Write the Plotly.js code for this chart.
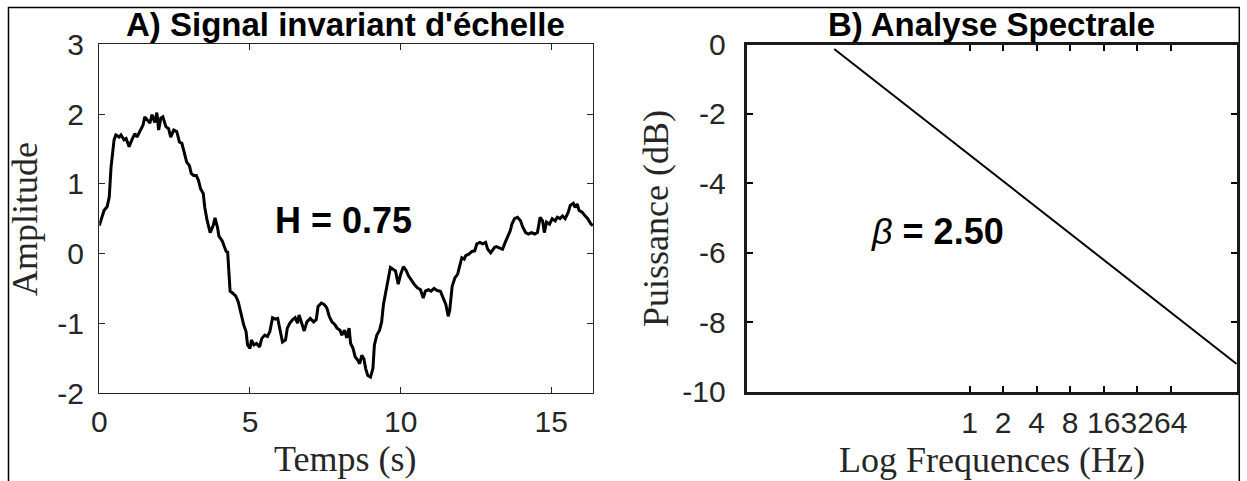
<!DOCTYPE html>
<html>
<head>
<meta charset="utf-8">
<script src="https://cdn.plot.ly/plotly-3.0.1.min.js"></script>
<style>
  html, body { margin: 0; padding: 0; background: #ffffff; }
  #chart { width: 1247px; height: 481px; }
</style>
</head>
<body>
<div id="chart"></div>
<script>
// ---- Panel A: scale-invariant signal ----
const time = [0,0.16,0.26,0.33,0.39,0.49,0.55,0.66,0.72,0.82,0.89,0.99,1.08,1.18,1.25,1.34,1.45,1.51,1.61,1.68,1.75,1.84,1.91,1.97,2.04,2.11,2.21,2.30,2.37,2.47,2.57,2.66,2.74,2.83,2.90,2.99,3.05,3.13,3.22,3.29,3.36,3.45,3.50,3.58,3.68,3.78,3.84,3.92,3.97,4.08,4.15,4.21,
  4.26,4.30,4.34,4.43,4.53,4.61,4.70,4.79,4.87,4.92,5.00,5.05,5.13,5.22,5.32,5.39,5.49,5.58,5.66,5.75,5.84,5.92,6.00,6.08,6.18,6.24,6.32,6.41,6.50,6.58,6.63,6.71,6.80,6.89,7.00,7.11,7.20,7.26,7.37,7.46,7.55,7.63,7.72,7.82,7.89,7.99,8.05,8.14,8.21,8.29,8.34,8.42,8.49,8.58,8.64,8.71,8.78,8.84,8.91,9.00,9.08,9.13,9.21,9.30,9.37,9.43,9.50,9.57,9.66,9.76,9.83,9.92,10.00,10.09,10.18,10.26,10.36,10.45,10.55,10.66,10.75,10.82,10.92,11.01,11.11,11.21,11.32,11.41,11.50,11.58,11.63,11.71,11.80,11.89,11.97,12.03,12.11,12.16,12.26,12.37,12.46,12.53,12.63,12.72,12.82,12.89,12.99,13.05,13.12,13.18,13.29,13.38,13.47,13.55,13.64,
  13.69,13.78,13.88,13.98,14.05,14.15,14.24,14.34,14.45,14.54,14.63,14.71,14.77,14.84,14.94,15.03,15.13,15.20,15.29,15.37,15.46,15.56,15.63,15.73,15.79,15.86,15.92,16.03,16.12,16.21,16.32,16.38];
const amplitude = [0.40,0.62,0.67,0.81,1.24,1.63,1.70,1.67,1.70,1.63,1.65,1.53,1.63,1.72,1.67,1.75,1.84,1.96,1.91,1.87,1.99,1.88,2.02,1.77,1.94,1.96,1.82,1.79,1.67,1.77,1.75,1.60,1.58,1.43,1.31,1.26,1.15,1.12,1.12,1.05,0.93,0.86,0.66,0.47,0.30,0.40,0.51,0.38,0.25,0.18,0.09,0.03,
  0.02,-0.25,-0.54,-0.57,-0.61,-0.69,-0.88,-1.02,-1.12,-1.31,-1.36,-1.24,-1.31,-1.29,-1.34,-1.22,-1.17,-1.19,-1.12,-0.92,-0.94,-0.93,-1.10,-1.27,-1.24,-1.07,-1.00,-0.95,-0.92,-1.00,-0.88,-1.00,-1.11,-0.98,-0.93,-0.98,-0.95,-0.76,-0.71,-0.73,-0.78,-0.90,-0.98,-1.02,-1.07,-1.10,-1.17,-1.10,-1.21,-1.07,-1.29,-1.36,-1.48,-1.53,-1.58,-1.46,-1.51,-1.65,-1.75,-1.77,-1.65,-1.31,-1.17,-1.10,-0.98,-0.73,-0.57,-0.40,-0.20,-0.23,-0.25,-0.44,-0.30,-0.19,-0.24,-0.32,-0.39,-0.44,-0.49,-0.52,-0.64,-0.54,-0.52,-0.54,-0.50,-0.53,-0.54,-0.64,-0.73,-0.90,-0.81,-0.47,-0.35,-0.30,-0.15,-0.06,-0.08,-0.03,-0.01,0.03,0.04,0.14,0.16,0.14,0.16,0.06,0.01,0.04,0.09,0.10,0.08,0.06,0.16,0.23,0.33,
  0.42,0.50,0.52,0.47,0.38,0.30,0.28,0.30,0.28,0.30,0.52,0.47,0.30,0.45,0.42,0.50,0.47,0.52,0.50,0.54,0.50,0.59,0.69,0.72,0.66,0.71,0.62,0.59,0.54,0.50,0.42,0.40];
const timeTicks = [0, 5, 10, 15];
const timeTickLabels = ['0', '5', '10', '15'];
const ampTicks = [-2, -1, 0, 1, 2, 3];
const ampTickLabels = ['-2', '-1', '0', '1', '2', '3'];

// ---- Panel B: spectral analysis ----
const frequency = [0.061, 250];
const powerDb = [-0.13, -9.2];
const freqTicks = [1, 2, 4, 8, 16, 32, 64];
const freqTickLabels = ['1', '2', '4', '8', '16', '32', '64'];
const powTicks = [-10, -8, -6, -4, -2, 0];
const powTickLabels = ['-10', '-8', '-6', '-4', '-2', '0'];

const W = 1247, H = 481;
const px = v => v / W;
const py = v => 1 - v / H;

const sans = 'Liberation Sans, Arial, Helvetica, sans-serif';
const serif = 'Liberation Serif, Times New Roman, serif';
const grey = '#262626';

const traces = [
  { x: time, y: amplitude, xaxis: 'x', yaxis: 'y', type: 'scatter', mode: 'lines',
    line: { color: '#000000', width: 3 }, hoverinfo: 'skip' },
  { x: frequency, y: powerDb, xaxis: 'x2', yaxis: 'y2', type: 'scatter', mode: 'lines',
    line: { color: '#000000', width: 2 }, hoverinfo: 'skip', cliponaxis: true }
];

const tickFont = { family: sans, size: 30, color: grey };

const layout = {
  width: W, height: H,
  margin: { l: 0, r: 0, t: 0, b: 0, pad: 0 },
  paper_bgcolor: '#ffffff', plot_bgcolor: '#ffffff',
  showlegend: false,
  xaxis: {
    domain: [px(99.3), px(593)], range: [0, 16.384], anchor: 'y',
    tickmode: 'array', tickvals: timeTicks, ticktext: timeTickLabels, tickangle: 0,
    ticks: 'inside', ticklen: 6, tickwidth: 1, tickcolor: grey,
    showline: true, linecolor: grey, linewidth: 1.3, mirror: 'ticks',
    showgrid: false, zeroline: false, tickfont: tickFont, ticklabelstandoff: 2
  },
  yaxis: {
    domain: [py(393), py(44.3)], range: [-2, 3], anchor: 'x',
    tickmode: 'array', tickvals: ampTicks, ticktext: ampTickLabels,
    ticks: 'inside', ticklen: 6, tickwidth: 1, tickcolor: grey,
    showline: true, linecolor: grey, linewidth: 1.3, mirror: 'ticks',
    showgrid: false, zeroline: false, tickfont: tickFont, ticklabelstandoff: 8
  },
  xaxis2: {
    domain: [px(746.7), px(1236.7)], type: 'log', range: [-2, Math.log10(250)], anchor: 'y2',
    tickmode: 'array', tickvals: freqTicks, ticktext: freqTickLabels, tickangle: 0,
    ticks: 'inside', ticklen: 6, tickwidth: 2, tickcolor: '#000000',
    showline: true, linecolor: '#1a1a1a', linewidth: 3, mirror: 'ticks',
    showgrid: false, zeroline: false, tickfont: tickFont, ticklabelstandoff: 2
  },
  yaxis2: {
    domain: [py(391.7), py(44.5)], range: [-10, 0], anchor: 'x2',
    tickmode: 'array', tickvals: powTicks, ticktext: powTickLabels,
    ticks: 'inside', ticklen: 6, tickwidth: 2, tickcolor: '#000000',
    showline: true, linecolor: '#1a1a1a', linewidth: 3, mirror: 'ticks',
    showgrid: false, zeroline: false, tickfont: tickFont, ticklabelstandoff: 12
  },
  shapes: [
    { type: 'rect', xref: 'paper', yref: 'paper',
      x0: px(8.5), x1: px(1239.3), y0: -0.1, y1: py(7.5),
      line: { color: '#000000', width: 1.5 }, fillcolor: 'rgba(0,0,0,0)', layer: 'below' }
  ],
  annotations: [
    { text: "<b>A) Signal invariant d'échelle</b>", xref: 'paper', yref: 'paper',
      x: px(345.5), y: py(24.5), xanchor: 'center', yanchor: 'middle', showarrow: false,
      font: { family: sans, size: 33, color: '#000000' } },
    { text: '<b>B) Analyse Spectrale</b>', xref: 'paper', yref: 'paper',
      x: px(991.7), y: py(24.5), xanchor: 'center', yanchor: 'middle', showarrow: false,
      font: { family: sans, size: 33, color: '#000000' } },
    { text: '<b>H = 0.75</b>', xref: 'x', yref: 'y', x: 8.1, y: 0.476,
      xanchor: 'center', yanchor: 'middle', showarrow: false,
      font: { family: sans, size: 36, color: '#000000' } },
    { text: '<i>β</i><b> = 2.50</b>', xref: 'x2', yref: 'y2', x: Math.log10(0.52), y: -5.39,
      xanchor: 'center', yanchor: 'middle', showarrow: false,
      font: { family: sans, size: 36, color: '#000000' } },
    { text: 'Temps (s)', xref: 'paper', yref: 'paper', x: px(345.5), y: py(459),
      xanchor: 'center', yanchor: 'middle', showarrow: false,
      font: { family: serif, size: 36, color: grey } },
    { text: 'Log Frequences (Hz)', xref: 'paper', yref: 'paper', x: px(991.7), y: py(460),
      xanchor: 'center', yanchor: 'middle', showarrow: false,
      font: { family: serif, size: 36, color: grey } },
    { text: 'Amplitude', xref: 'paper', yref: 'paper', x: px(25), y: py(219),
      xanchor: 'center', yanchor: 'middle', textangle: -90, showarrow: false,
      font: { family: serif, size: 36, color: grey } },
    { text: 'Puissance (dB)', xref: 'paper', yref: 'paper', x: px(656), y: py(219),
      xanchor: 'center', yanchor: 'middle', textangle: -90, showarrow: false,
      font: { family: serif, size: 36, color: grey } }
  ]
};

Plotly.newPlot('chart', traces, layout, { staticPlot: true, displayModeBar: false });
</script>
</body>
</html>
